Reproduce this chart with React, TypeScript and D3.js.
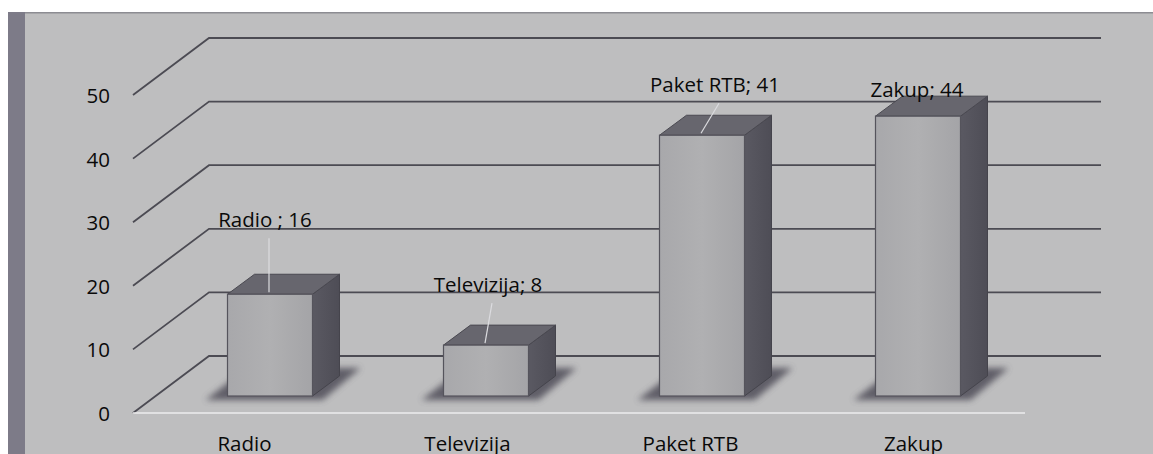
import React from "react";
import * as d3 from "d3";

const categories = ["Radio", "Televizija", "Paket RTB", "Zakup"];
const values = [16, 8, 41, 44];
const dataLabels = ["Radio ; 16", "Televizija; 8", "Paket RTB; 41", "Zakup; 44"];
const yTicks = [0, 10, 20, 30, 40, 50];

// layout nudges for Excel's auto-placed data labels (px)
const labelLift = [67, 53, 43, 19];
const labelShiftX = [-5, 2, 13, -1];

const W = 1153;
const H = 454;
const FONT = "'Open Sans', 'Noto Sans', sans-serif";
const FS = 20.5;

export default function App() {
  const floorFrontY = 413;
  const depth = { x: 76, y: -57 };
  const floorLeft = 133;
  const floorRight = 1025;
  const backRight = 1101;

  const h = d3.scaleLinear().domain([0, 50]).range([0, 318]);
  const xCat = d3.scaleBand<string>().domain(categories).range([floorLeft, floorRight]).padding(0);
  const xBar = d3.scalePoint<string>().domain(categories).range([162, 1026]).padding(0.5);

  const barBaseY = 396;
  const barW = 85;
  const bd = { x: 27, y: -20 };

  const backY = (v: number) => floorFrontY + depth.y - h(v);
  const frontY = (v: number) => floorFrontY - h(v);

  return (
    <svg
      width={W}
      height={H}
      style={{ position: "absolute", left: 0, top: 0, display: "block" }}
      fontFamily={FONT}
    >
      <defs>
        <filter id="blur" x="-20%" y="-50%" width="140%" height="200%">
          <feGaussianBlur stdDeviation="3" />
        </filter>
        <linearGradient id="sideGrad" x1="0" x2="1" y1="0" y2="0">
          <stop offset="0" stopColor="#5a5962" />
          <stop offset="1" stopColor="#4e4d56" />
        </linearGradient>
        <linearGradient id="frontGrad" x1="0" x2="1" y1="0" y2="0">
          <stop offset="0" stopColor="#a8a8ab" />
          <stop offset="0.5" stopColor="#b0b0b2" />
          <stop offset="1" stopColor="#a4a4a7" />
        </linearGradient>
      </defs>
      <rect x={0} y={0} width={W} height={H} fill="#ffffff" />
      <rect x={8} y={12} width={W - 8} height={H - 12} fill="#bebebf" />
      <rect x={8} y={12} width={W - 8} height={1.5} fill="#8c8c92" />
      <rect x={8} y={12} width={17} height={H - 12} fill="#7d7b88" />

      {/* gridlines: side wall diagonals + back wall lines */}
      {yTicks.map((t) => (
        <polyline
          key={`g${t}`}
          points={`${floorLeft},${frontY(t)} ${floorLeft + depth.x},${backY(t)} ${backRight},${backY(t)}`}
          stroke="#4c4b53"
          strokeWidth={1.8}
          fill="none"
        />
      ))}
      <line x1={floorLeft} x2={floorRight} y1={floorFrontY} y2={floorFrontY} stroke="#ececee" strokeWidth={1.5} />

      {yTicks.map((t) => (
        <text
          key={`t${t}`}
          x={110}
          y={frontY(t)}
          textAnchor="end"
          dominantBaseline="central"
          fontSize={FS}
          fill="#0a0a0a"
        >
          {t}
        </text>
      ))}

      {categories.map((c, i) => {
        const cx = xBar(c) as number;
        const xl = cx - barW / 2;
        const xr = cx + barW / 2;
        const top = barBaseY - h(values[i]);
        return (
          <g key={`b${c}`}>
            <polygon
              points={`${xl - 22},${barBaseY + 4} ${xr + 10},${barBaseY + 4} ${xr + 48},${barBaseY - 28} ${xl + 20},${barBaseY - 28}`}
              fill="#4f4d58"
              opacity={0.85}
              filter="url(#blur)"
            />
            <polygon
              points={`${xr},${barBaseY} ${xr + bd.x},${barBaseY + bd.y} ${xr + bd.x},${top + bd.y} ${xr},${top}`}
              fill="url(#sideGrad)"
              stroke="#45444c"
              strokeWidth={1}
            />
            <polygon
              points={`${xl},${top} ${xr},${top} ${xr + bd.x},${top + bd.y} ${xl + bd.x},${top + bd.y}`}
              fill="#67666e"
              stroke="#4a4951"
              strokeWidth={1}
            />
            <rect
              x={xl}
              y={top}
              width={barW}
              height={barBaseY - top}
              fill="url(#frontGrad)"
              stroke="#55545c"
              strokeWidth={1.2}
            />
          </g>
        );
      })}

      {categories.map((c, i) => {
        const cx = xBar(c) as number;
        const top = barBaseY - h(values[i]);
        const lx = cx + labelShiftX[i];
        const ly = top - labelLift[i];
        return (
          <g key={`l${c}`}>
            {labelLift[i] > 30 && (
              <line
                x1={lx + 4}
                y1={ly + 11}
                x2={cx - 1}
                y2={top - 2}
                stroke="#dcdce0"
                strokeWidth={1.2}
              />
            )}
            <text x={lx} y={ly} textAnchor="middle" fontSize={FS} fill="#0a0a0a">
              {dataLabels[i]}
            </text>
          </g>
        );
      })}

      {categories.map((c) => (
        <text
          key={`c${c}`}
          x={(xCat(c) as number) + xCat.bandwidth() / 2}
          y={451}
          textAnchor="middle"
          fontSize={FS}
          fill="#0a0a0a"
        >
          {c}
        </text>
      ))}
    </svg>
  );
}
